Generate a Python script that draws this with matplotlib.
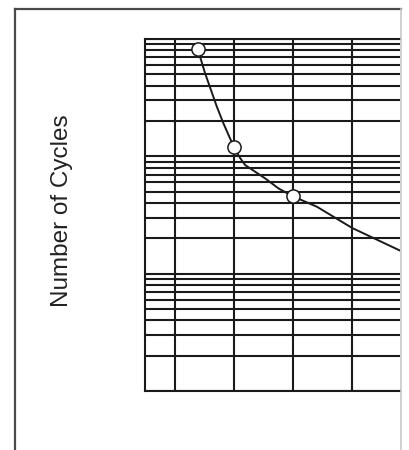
import numpy as np
import matplotlib.pyplot as plt
from matplotlib.lines import Line2D
from matplotlib.ticker import LogLocator, FixedLocator, NullFormatter

plt.rcParams['font.family'] = ['Liberation Sans', 'DejaVu Sans']

# points on the fitted curve
curve_x = [1.385, 1.508, 1.707, 1.819, 1.893, 1.992, 2.042, 2.102, 2.186, 2.525, 2.751, 2.983, 3.402, 4.0, 4.814, 4.983]
curve_y = [8.17e5, 5.10e5, 2.65e5, 1.91e5, 1.57e5, 1.21e5, 1.09e5, 9.67e4, 8.43e4, 6.49e4, 5.33e4, 4.59e4, 3.72e4, 2.45e4, 1.57e4, 1.44e4]

# measured points (open circles)
meas_x = [1.385, 2.0, 3.0]
meas_y = [8.17e5, 1.21e5, 4.6e4]

W, H = 410, 450
fig = plt.figure(figsize=(W / 100, H / 100), dpi=100)
ax = fig.add_axes([145 / W, 1 - 391 / H, (400 - 145) / W, (391 - 39) / H])

ink = '#1a1a1a'
ax.set_yscale('log')
ax.set_ylim(1e3, 1e6)
ax.set_xlim(0.49, 4.81)

ax.xaxis.set_major_locator(FixedLocator([1, 2, 3, 4, 5]))
ax.yaxis.set_major_locator(LogLocator(base=10, numticks=10))
ax.yaxis.set_minor_locator(LogLocator(base=10, subs=np.arange(2, 10), numticks=10))
ax.yaxis.set_minor_formatter(NullFormatter())
ax.grid(True, which='both', color=ink, linewidth=1.5)
ax.tick_params(which='both', length=0, labelleft=False, labelbottom=False)
ax.set_axisbelow(True)

for side in ['left', 'bottom', 'top']:
    ax.spines[side].set_color(ink)
    ax.spines[side].set_linewidth(1.5)
ax.spines['right'].set_visible(False)

ax.plot(curve_x, curve_y, color=ink, linewidth=1.4, zorder=3)
ax.plot(meas_x, meas_y, linestyle='none', marker='o', markersize=9.5,
        markerfacecolor='white', markeredgecolor=ink, markeredgewidth=1.1, zorder=4)

fig.text(62 / W, 1 - 211 / H, 'Number of Cycles', rotation=90,
         ha='center', va='center', fontsize=17.5, color='#222222')

# outer frame of the original page
fig.add_artist(Line2D([15 / W, 15 / W], [0, 1 - 8.5 / H], color='#4a4a4a', linewidth=1.6))
fig.add_artist(Line2D([15 / W, 401 / W], [1 - 8.5 / H, 1 - 8.5 / H], color='#4a4a4a', linewidth=1.6))
fig.add_artist(Line2D([401.5 / W, 401.5 / W], [0, 1 - 8.5 / H], color='#c8c8c8', linewidth=1.2))

fig.savefig('out.png', dpi=100)
